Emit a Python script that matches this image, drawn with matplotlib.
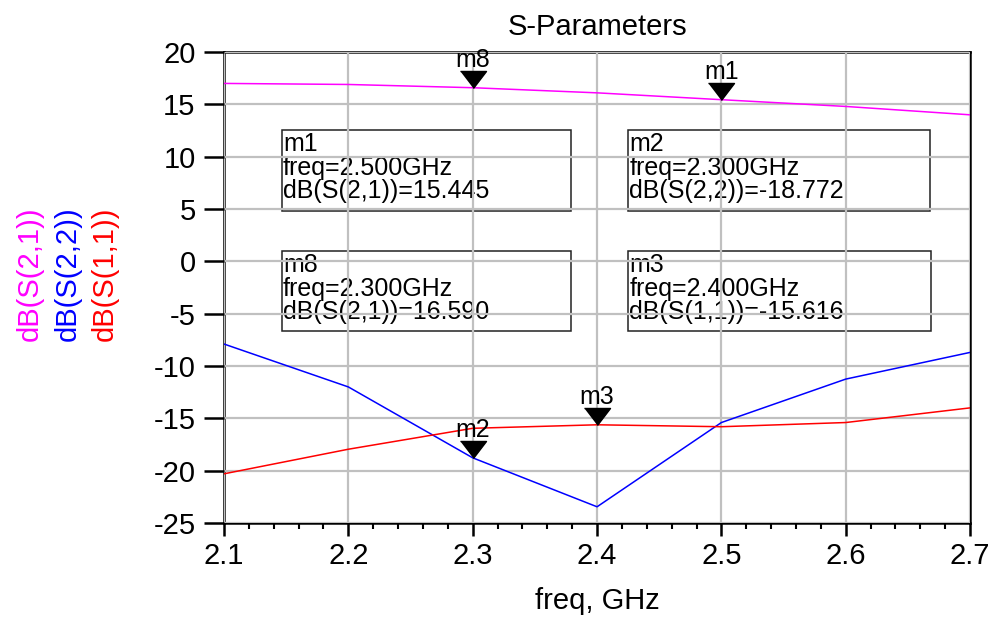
import matplotlib as mpl
import matplotlib.pyplot as plt
from matplotlib.patches import Rectangle

mpl.rc('font', family='Liberation Sans')
mpl.rcParams['axes.unicode_minus'] = False

freq = [2.1, 2.2, 2.3, 2.4, 2.5, 2.6, 2.7]
s21 = [17.0, 16.9, 16.590, 16.1, 15.445, 14.8, 14.0]
s22 = [-7.9, -12.0, -18.772, -23.45, -15.4, -11.25, -8.7]
s11 = [-20.3, -17.95, -15.95, -15.616, -15.8, -15.4, -14.0]

traces = {
    'dB(S(2,1))': (s21, '#ff00ff'),
    'dB(S(2,2))': (s22, '#0000ff'),
    'dB(S(1,1))': (s11, '#ff0000'),
}

# marker name, trace, freq index
markers = [('m8', 'dB(S(2,1))', 2), ('m1', 'dB(S(2,1))', 4),
           ('m2', 'dB(S(2,2))', 2), ('m3', 'dB(S(1,1))', 3)]

# readout boxes in axes fraction: name -> (x0, y0, x1, y1)
boxes = {'m1': (0.078, 0.662, 0.465, 0.834),
         'm2': (0.542, 0.662, 0.946, 0.834),
         'm8': (0.078, 0.408, 0.465, 0.577),
         'm3': (0.542, 0.408, 0.948, 0.577)}

fig = plt.figure(figsize=(9.97, 6.23), dpi=100)
ax = fig.add_axes([0.2247, 0.1605, 0.7483, 0.756])

for name, (vals, col) in traces.items():
    ax.plot(freq, vals, color=col, lw=1.1, zorder=3)

tri = [(-13, 17), (13, 17), (0, 0)]
for mname, tname, i in markers:
    vals = traces[tname][0]
    ax.plot(freq[i], vals[i], marker=tri, markersize=24.5, color='black',
            linestyle='none', zorder=5, clip_on=False)
    ax.annotate(mname, (freq[i], vals[i]), xytext=(0, 15), textcoords='offset points',
                ha='center', va='baseline', fontsize=18, zorder=6)

    x0, y0, x1, y1 = boxes[mname]
    ax.add_patch(Rectangle((x0, y0), x1 - x0, y1 - y0, transform=ax.transAxes,
                           fill=False, edgecolor='#222222', lw=1.1, zorder=1))
    txt = f"{mname}\nfreq={freq[i]:.3f}GHz\n{tname}={vals[i]:.3f}"
    ax.text(x0 + 0.001, y1 - 0.004, txt, transform=ax.transAxes, ha='left', va='top',
            fontsize=18, linespacing=0.97, zorder=1)

ax.set_xlim(2.1, 2.7)
ax.set_ylim(-25, 20)
ax.set_xticks([2.1, 2.2, 2.3, 2.4, 2.5, 2.6, 2.7])
ax.set_xticks([2.1 + 0.02 * k for k in range(31)], minor=True)
ax.set_yticks(range(-25, 21, 5))
ax.grid(True, color='#c0c0c0', lw=1.6, zorder=2)
ax.set_axisbelow(False)
for sp in ax.spines.values():
    sp.set_linewidth(1.8)
ax.tick_params(axis='y', which='major', length=14.5, width=1.8, labelsize=21, pad=6)
ax.tick_params(axis='x', which='major', length=9.5, width=1.8, labelsize=21, pad=4)
ax.tick_params(axis='x', which='minor', length=4, width=1.5)

ax.set_title('S-Parameters', fontsize=21, pad=12)
ax.set_xlabel('freq, GHz', fontsize=21)
ax.xaxis.set_label_coords(0.50, -0.135)

xs = [0.030, 0.068, 0.105]
for (name, (vals, col)), xp in zip(traces.items(), xs):
    fig.text(xp, 0.56, name, rotation=90, color=col, fontsize=21, ha='center', va='center')

plt.savefig('out.png', dpi=100)
